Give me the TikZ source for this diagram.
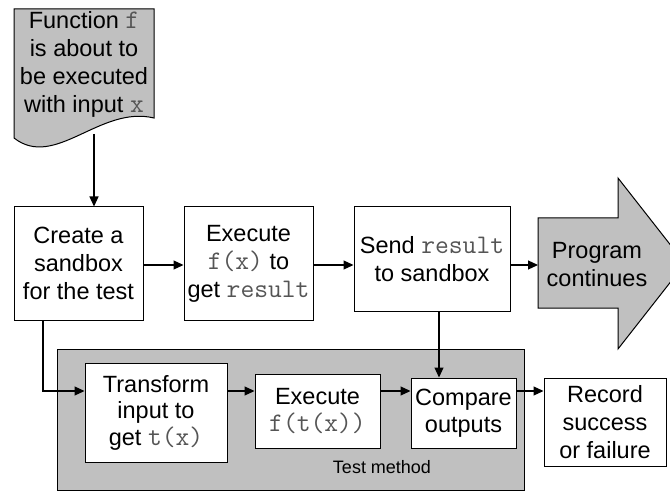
\documentclass[tikz,border=0pt]{standalone}
\usepackage{fontspec}
\setmainfont{Liberation Sans}
\setmonofont{Latin Modern Mono}[Scale=1.14]
\usetikzlibrary{arrows.meta}
\definecolor{panelgray}{RGB}{192,192,192}
\definecolor{codegray}{RGB}{85,85,85}
\newcommand\codetxt[1]{\textcolor{codegray}{\texttt{#1}}}
\begin{document}
\begin{tikzpicture}[x=1pt,y=-1pt,
  every node/.style={font=\fontsize{23.5}{28}\selectfont},
  boxst/.style={draw=black, line width=1pt, fill=white, inner sep=0pt, align=center},
  arr/.style={line width=1.2pt, -{Triangle[length=10pt,width=9pt]}},
  plain/.style={line width=1.2pt}]
\useasboundingbox (0,0) rectangle (670,492);
\clip (0,0) rectangle (670,492);
\fill[white] (0,0) rectangle (670,492);
% document shape
\draw[line width=1pt, fill=panelgray] (14,9) -- (154,9) -- (154,118)
  .. controls (100,105) and (55,170) .. (14,138) -- cycle;
\node[align=center] (doc) at (84,64) {Function \codetxt{f}\\is about to\\be executed\\with input \codetxt{x}};
\coordinate (docout) at (94,134);
% test method panel
\draw[line width=1pt, fill=panelgray] (57,349) rectangle (524,490);
\node[font=\fontsize{18}{20}\selectfont] (tm) at (382,467) {Test method};
% upper boxes
\node[boxst, minimum width=129pt, minimum height=113pt] (create) at (78.5,263.5) {Create a\\sandbox\\for the test};
\node[boxst, minimum width=129pt, minimum height=113pt] (exec1) at (248.5,263.5) {Execute\\\codetxt{f(x)} to\\get \codetxt{result}};
\node[boxst, minimum width=156pt, minimum height=104pt] (send) at (432,259) {Send \codetxt{result}\\to sandbox};
% big arrow
\draw[line width=1pt, fill=panelgray] (538,218) -- (618,218) -- (618,178) -- (685,263.5)
  -- (618,349) -- (618,308) -- (538,308) -- cycle;
\node[align=center] (prog) at (597,265) {Program\\continues};
\coordinate (progin) at (538,265);
% lower boxes
\node[boxst, minimum width=142pt, minimum height=99pt, font=\fontsize{23.5}{26.5}\selectfont] (transform) at (156,412.5) {Transform\\input to\\get \codetxt{t(x)}};
\node[boxst, minimum width=125pt, minimum height=74pt, font=\fontsize{23.5}{27}\selectfont] (exec2) at (317.5,411) {Execute\\\codetxt{f(t(x))}};
\node[boxst, minimum width=105pt, minimum height=70pt, font=\fontsize{23.5}{27.5}\selectfont] (compare) at (463.5,413) {Compare\\outputs};
\node[boxst, minimum width=122pt, minimum height=88pt] (record) at (605,422) {Record\\success\\or failure};
% levels
\coordinate (uv) at (0,265);
\coordinate (lv) at (0,391);
% connectors
\draw[arr] (docout) -- (docout |- create.north);
\draw[arr] (create.east |- uv) -- (exec1.west |- uv);
\draw[arr] (exec1.east |- uv) -- (send.west |- uv);
\draw[arr] (send.east |- uv) -- (progin);
\draw[arr] (create.south -| 43,0) |- (transform.west |- lv);
\draw[arr] (transform.east |- lv) -- (exec2.west |- lv);
\draw[arr] (exec2.east |- lv) -- (compare.west |- lv);
\draw[arr] (compare.east |- lv) -- (record.west |- lv);
\draw[arr] (send.south -| 439,0) -- (compare.north -| 439,0);
\end{tikzpicture}
\end{document}
